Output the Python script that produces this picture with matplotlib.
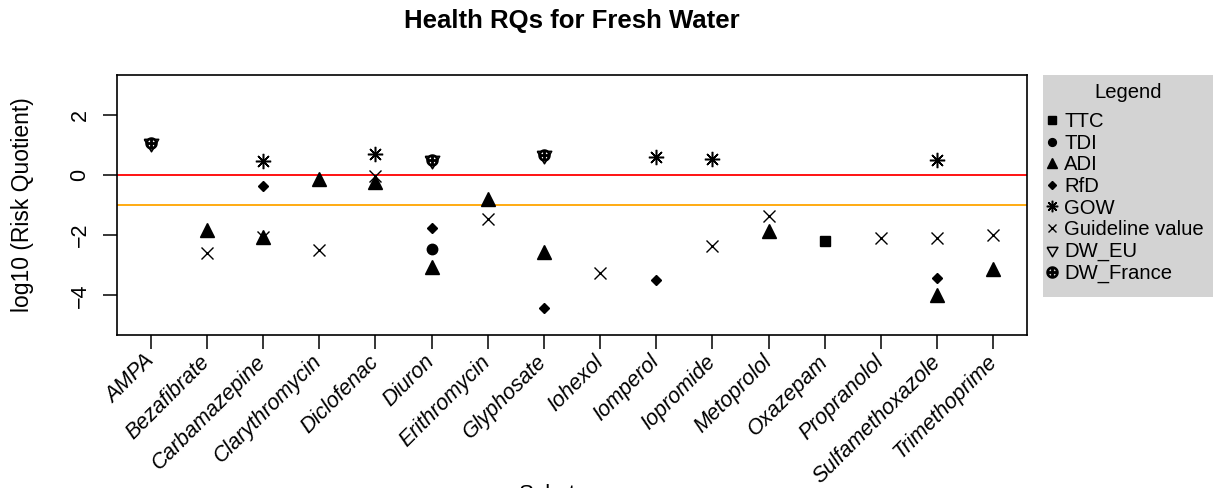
import numpy as np
import matplotlib
matplotlib.use("Agg")
import matplotlib.pyplot as plt
from matplotlib.patches import Rectangle

plt.rcParams["font.family"] = ["Liberation Sans", "DejaVu Sans"]

nan = np.nan

# substances on the x axis
substances = ["AMPA", "Bezafibrate", "Carbamazepine", "Clarythromycin", "Diclofenac",
              "Diuron", "Erithromycin", "Glyphosate", "Iohexol", "Iomperol",
              "Iopromide", "Metoprolol", "Oxazepam", "Propranolol",
              "Sulfamethoxazole", "Trimethoprime"]

# log10 risk quotients per reference value type (nan = not available)
ttc = [nan, nan, nan, nan, nan, nan, nan, nan, nan, nan, nan, nan, -2.18, nan, nan, nan]
tdi = [nan, nan, nan, nan, nan, -2.46, nan, nan, nan, nan, nan, nan, nan, nan, nan, nan]
adi = [nan, -1.82, -2.05, -0.12, -0.25, -3.07, -0.80, -2.55, nan, nan, nan, -1.86, nan, nan, -3.99, -3.13]
rfd = [nan, nan, -0.38, nan, nan, -1.75, nan, -4.41, nan, -3.49, nan, nan, nan, nan, -3.43, nan]
gow = [nan, nan, 0.45, nan, 0.70, nan, nan, nan, nan, 0.59, 0.54, nan, nan, nan, 0.48, nan]
guideline = [nan, -2.58, -2.05, -2.51, -0.05, nan, -1.47, nan, -3.27, nan, -2.35, -1.36, nan, -2.10, -2.10, -1.99]
dw_eu = [1.07, nan, nan, nan, nan, 0.51, nan, 0.65, nan, nan, nan, nan, nan, nan, nan, nan]
dw_france = [1.07, nan, nan, nan, nan, 0.51, nan, 0.65, nan, nan, nan, nan, nan, nan, nan, nan]

x = np.arange(1, len(substances) + 1)

# down triangle centred on its centroid (like R pch 6)
tri_down = [(-1, 0.577), (1, 0.577), (0, -1.155), (-1, 0.577)]

fig = plt.figure(figsize=(12.13, 4.88), dpi=100)
ax = fig.add_axes([117 / 1213, 1 - 335 / 488, 910 / 1213, 260 / 488])

ax.axhline(0, color="red", lw=1.3)
ax.axhline(-1, color="orange", lw=1.3)

h_ttc, = ax.plot(x, ttc, "s", color="black", ms=7.5, ls="none", label="TTC")
h_tdi, = ax.plot(x, tdi, "o", color="black", ms=7.5, ls="none", label="TDI")
h_adi, = ax.plot(x, adi, "^", color="black", ms=10, ls="none", label="ADI")
h_rfd, = ax.plot(x, rfd, "D", color="black", ms=5, ls="none", label="RfD")
h_gow, = ax.plot(x, gow, marker=(8, 2, 0), color="black", ms=11, mew=1.1, ls="none", label="GOW")
h_gl, = ax.plot(x, guideline, "x", color="black", ms=8.5, mew=1.0, ls="none", label="Guideline value")
h_eu, = ax.plot(x, dw_eu, marker=tri_down, mfc="none", mec="black", ms=12, mew=1.1, ls="none", label="DW_EU")
h_fr, = ax.plot(x, dw_france, marker=r"$\oplus$", color="black", ms=8, ls="none", label="DW_France")

ax.set_xlim(0.4, 16.6)
ax.set_ylim(-5.32, 3.32)
ax.set_yticks([-4, -2, 0, 2])
ax.set_yticklabels(["\u22124", "\u22122", "0", "2"], rotation=90, va="center", fontsize=15.5)
ax.set_xticks(x)
ax.set_xticklabels(substances, rotation=45, ha="right", va="center", rotation_mode="anchor",
                   fontsize=15.5, style="italic")
ax.tick_params(axis="both", direction="out", length=10, width=1.1)
ax.tick_params(axis="x", pad=7)
ax.tick_params(axis="y", pad=9)
for s in ax.spines.values():
    s.set_linewidth(1.2)

ax.set_ylabel("log10 (Risk Quotient)", fontsize=16.5)
ax.yaxis.set_label_coords((34 - 117) / 910, 0.5)

fig.text(572 / 1213, 1 - 21 / 488, "Health RQs for Fresh Water", ha="center", va="center",
         fontsize=18.5, fontweight="bold")
# x label sits mostly below the bottom edge, as in the original
fig.text(572 / 1213, -12 / 488, "Substance", ha="center", va="baseline", fontsize=16)

# grey legend panel running to the right edge
fig.patches.append(Rectangle((1043 / 1213, 1 - 297 / 488), 170 / 1213, 222 / 488,
                             transform=fig.transFigure, facecolor="#d3d3d3",
                             edgecolor="none", zorder=0))
fig.text(1128 / 1213, 1 - 92 / 488, "Legend", ha="center", va="center", fontsize=14.6)

leg = fig.legend(handles=[h_ttc, h_tdi, h_adi, h_rfd, h_gow, h_gl, h_eu, h_fr],
                 loc="upper left", bbox_to_anchor=(1046 / 1213, 1 - 112 / 488),
                 fontsize=14.6, frameon=False, borderaxespad=0, borderpad=0,
                 handlelength=0.6, handletextpad=0.3, labelspacing=0.13,
                 markerscale=0.75)
leg.legend_handles[7].set_markersize(8)

fig.savefig("out.png", dpi=100)
